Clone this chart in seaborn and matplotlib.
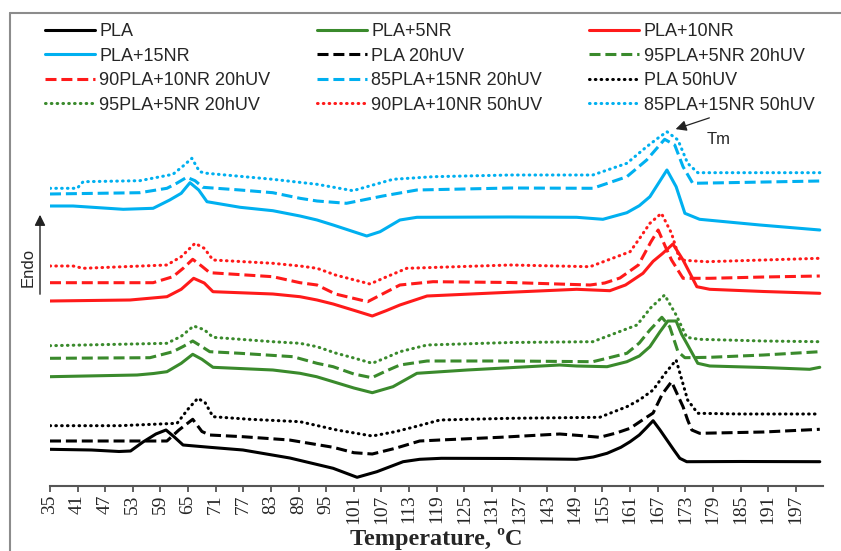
import matplotlib
matplotlib.use("Agg")
import matplotlib.pyplot as plt
import seaborn as sns
from matplotlib.lines import Line2D

# ---------------- data ----------------
T_PLA = [35, 44, 50, 52.5, 55.2, 58, 60.2, 62, 63.9, 69.7, 76.9, 87.1, 96.5, 101.7, 106, 111.7, 115.3, 120, 135,
         149.4, 153, 156, 159, 161, 163, 164.5, 166, 167.5, 169, 170.5, 171.8, 173.3, 185, 202.2]
H_PLA = [36.7, 36, 34.5, 35, 44, 52, 56, 49, 41, 38.7, 36, 28, 17.7, 8.7, 14.3, 24.3, 26.7, 27.7, 27.5,
         26.7, 29, 32.7, 38.7, 44.3, 51, 58, 65.3, 56, 46, 36, 27.7, 24.3, 24.5, 24.3]

T_PLA20 = [35, 50, 60.4, 63, 66, 68, 69.7, 76.9, 87, 96.5, 101, 105, 110, 115.3, 119.7, 132.7, 145.7, 150,
           154.4, 158, 161, 164, 166, 168, 170, 171.3, 172.5, 173.5, 174.4, 176.1, 190, 202.2]
H_PLA20 = [45, 45, 45, 56, 66.7, 54.5, 51, 49.3, 46, 38.7, 33.3, 32, 37.7, 45, 46, 48.7, 52, 50.5,
           48.7, 53, 57.7, 67, 73, 92, 104.3, 91.3, 79.3, 66, 56, 52.7, 54, 56.7]

T_PLA50 = [35, 50, 62.6, 65, 67.1, 68.7, 70.4, 78.4, 89.3, 97.3, 105, 110, 114.3, 119.7, 135, 154.4, 160.3,
           163, 166, 168.5, 171, 173.5, 175.7, 185, 202.2]
H_PLA50 = [60.3, 60.3, 62.7, 77, 87.7, 83.3, 69.3, 66.7, 64.3, 56, 50, 54.3, 59.3, 66, 67.7, 68.7, 79.3,
           86, 96, 112, 126, 86, 72.7, 72, 72]

T_5NR = [35, 53.9, 57.5, 60.4, 63.5, 66, 68, 70.4, 83.4, 89.3, 92.9, 96.5, 101, 105, 109.5, 114.7, 125.6,
         145.7, 149.4, 156, 160.3, 163, 165.3, 167.5, 169.2, 171, 172.2, 173.3, 175.7, 178.3, 190, 200, 202.2]
H_5NR = [109.3, 111, 112.5, 114.3, 122.7, 131.7, 126.7, 118.7, 116, 112.7, 109.3, 104.3, 98, 93.3, 99.3,
         112.7, 116, 121, 120, 119.3, 124.3, 130, 139.3, 154.3, 165, 165, 151.7, 142.7, 122.7, 120, 118.5,
         116.7, 118.7]

T_5NR20 = [35, 56.7, 61.7, 64, 66, 68, 69.7, 76.3, 87.8, 93, 96.5, 101, 104.9, 108, 111, 116.9, 135, 152.9,
           156.5, 160.3, 163, 165.3, 167.9, 169.6, 171.4, 172.9, 178.3, 190, 202.2]
H_5NR20 = [127.7, 128.3, 134.3, 139.7, 145, 139.3, 134.3, 132.7, 129.3, 122.7, 119.3, 112, 108.3, 115,
           121, 125, 125, 124.3, 128.3, 132.7, 143, 156, 168.7, 159.3, 134.3, 128.3, 128.7, 131, 134.3]

T_5NR50 = [35, 60.4, 63.5, 66.2, 68.5, 70.4, 83.4, 89.3, 93, 97, 101, 105, 108, 111, 116.9, 135, 152.9,
           157.5, 162.5, 165.5, 168.5, 171, 173.3, 176, 190, 202.2]
H_5NR50 = [140.3, 142.7, 149.7, 160, 156.3, 148.7, 144.3, 142.7, 139.3, 133, 128, 122.7, 128.3, 134.3,
           141, 143.5, 144.3, 152.3, 161, 178.3, 191, 171, 148.7, 146.7, 145, 144.3]

T_10NR = [35, 52.4, 60.4, 63.5, 66.2, 68.5, 70.4, 83.4, 89.3, 93, 96.5, 101, 105, 108, 111, 116.9, 132.7,
          149.4, 156.6, 160, 163.8, 166, 168.1, 170.3, 172.5, 174, 175.5, 178.3, 190, 202.2]
H_10NR = [185, 186, 189.3, 196.7, 207.7, 203, 194.3, 192, 189.3, 186, 182, 175.7, 170, 175.3, 181, 190,
          193.3, 196.7, 195.3, 201, 212.7, 224.7, 232.7, 242, 226, 212.7, 199.3, 196.7, 194.5, 192.7]

T_10NR20 = [35, 57.4, 61.7, 64, 66, 68, 69.7, 83.4, 89.3, 93, 97, 104, 107.5, 111, 118.2, 135, 152.3,
            155.5, 158.8, 162.8, 165.5, 167.1, 168.6, 170, 171.3, 172.5, 178.3, 190, 202.2]
H_10NR20 = [203.3, 203.3, 209.3, 218, 226.7, 219.7, 213.3, 209.3, 203.3, 201, 192, 184.3, 192.7, 201,
            204.3, 203.5, 201, 203, 208, 221, 244, 256, 240, 226, 216.5, 207.7, 207.7, 209, 210]

T_10NR50 = [35, 40, 42.2, 60.4, 63.5, 66.5, 68.5, 70.4, 83.4, 89.3, 93, 97, 104.5, 108, 112.5, 135, 152.3,
            157, 161, 163.2, 165.3, 167.8, 170, 171.8, 177.6, 190, 202.2]
H_10NR50 = [220, 220, 217.7, 221, 229.3, 242.7, 237.7, 226, 222.7, 220, 217.7, 211, 202, 209, 217.7, 221,
            219.3, 227.4, 234.3, 248.5, 262.7, 272.7, 252.7, 226, 224.3, 226, 227.7]

T_15NR = [35, 40, 50.9, 57.4, 61, 63.5, 65.4, 67.3, 69.1, 76.3, 83.4, 89.3, 93, 96.5, 103.8, 106.7, 111,
          114.7, 135, 149.4, 155.1, 160.3, 163, 165.3, 167.3, 169, 171, 172.9, 176.1, 189.2, 202.2]
H_15NR = [280, 280, 276.7, 277.7, 286, 292.7, 303.3, 296, 284.3, 278.7, 275.3, 270, 266, 261, 250, 254.3,
          266, 268.7, 269, 268.7, 266.7, 273.3, 280.3, 289.3, 303.7, 316, 299.3, 272.7, 266.7, 261, 256]

T_15NR20 = [35, 54.5, 60.4, 62.5, 64.7, 66.5, 68.2, 76.3, 83.4, 89.3, 93, 99.4, 107.3, 114.7, 135, 152.9,
            160.3, 164.6, 166.8, 168.5, 170.7, 172.5, 174.6, 182, 202.2]
H_15NR20 = [292, 293.3, 297.7, 302.7, 308.7, 305.3, 298.7, 296, 293.3, 287.7, 285, 282.7, 290, 296, 298,
            297.7, 309.3, 326, 337.7, 346.7, 341, 319.3, 302.7, 303.3, 305]

T_15NR50 = [35, 40.9, 42.2, 54.5, 61.7, 64, 65.8, 67.5, 69.1, 83.4, 93, 100.8, 109.5, 118.2, 135, 152.9,
            160.3, 164.6, 167, 169, 171.4, 173.5, 175.7, 190, 202.2]
H_15NR50 = [297.7, 297.7, 304.3, 305.3, 311.7, 320.3, 327.7, 314.3, 312.7, 306.7, 301.7, 295.3, 306.7,
            309.3, 311, 311, 322.7, 339.3, 347.7, 354.3, 346, 322.7, 313.3, 313.3, 313.3]

LABELS = ["PLA", "PLA+5NR", "PLA+10NR",
          "PLA+15NR", "PLA 20hUV", "95PLA+5NR 20hUV",
          "90PLA+10NR 20hUV", "85PLA+15NR 20hUV", "PLA 50hUV",
          "95PLA+5NR 20hUV", "90PLA+10NR 50hUV", "85PLA+15NR 50hUV"]
XTICKS = list(range(35, 198, 6))

# ---------------- styles ----------------
BLACK, GREEN, RED, CYAN = "#000000", "#3A8A2C", "#FF1A1A", "#00B0F0"
SOLID = "-"
DASH = (0, (3.6, 1.6))
DOT = (0, (0.2, 1.7))
LW = 2.2

series = [
    (T_PLA, H_PLA, BLACK, SOLID),
    (T_5NR, H_5NR, GREEN, SOLID),
    (T_10NR, H_10NR, RED, SOLID),
    (T_15NR, H_15NR, CYAN, SOLID),
    (T_PLA20, H_PLA20, BLACK, DASH),
    (T_5NR20, H_5NR20, GREEN, DASH),
    (T_10NR20, H_10NR20, RED, DASH),
    (T_15NR20, H_15NR20, CYAN, DASH),
    (T_PLA50, H_PLA50, BLACK, DOT),
    (T_5NR50, H_5NR50, GREEN, DOT),
    (T_10NR50, H_10NR50, RED, DOT),
    (T_15NR50, H_15NR50, CYAN, DOT),
]

sns.set_theme(style="white")
plt.rcParams["font.family"] = ["Liberation Sans", "DejaVu Sans"]

W, H = 841, 551
fig = plt.figure(figsize=(W / 100, H / 100), dpi=100)
ax = fig.add_axes([50 / W, 65 / H, 773 / W, (486 - 115) / H])

handles = []
for (t, h, c, ls), lab in zip(series, LABELS):
    cap = "round" if ls == DOT else "butt"
    sns.lineplot(x=t, y=h, ax=ax, color=c, linestyle=ls, linewidth=LW, legend=False)
    line = ax.get_lines()[-1]
    line.set_dash_capstyle(cap)
    line.set_solid_joinstyle("round")
    handles.append(Line2D([], [], color=c, linestyle=ls, linewidth=LW, dash_capstyle=cap))

ax.set_xlim(35, 202.9)
ax.set_ylim(0, 486 - 115)
ax.set_xticks(XTICKS)
ax.set_xticklabels([str(v) for v in XTICKS], rotation=90,
                   fontfamily="Liberation Serif", fontsize=14)
ax.set_yticks([])
for s in ["left", "right", "top"]:
    ax.spines[s].set_visible(False)
ax.spines["bottom"].set_color("#555555")
ax.spines["bottom"].set_linewidth(1.5)
ax.tick_params(axis="x", direction="out", length=4, width=1.3, color="#555555", pad=2, bottom=True)
ax.set_xlabel("Temperature, ºC", fontfamily="Liberation Serif", fontweight="bold",
              fontsize=17.5, labelpad=3)
ax.set_ylabel("")

# legend laid out row-wise in 3 columns
order = [0, 3, 6, 9, 1, 4, 7, 10, 2, 5, 8, 11]
fig.legend([handles[i] for i in order], [LABELS[i] for i in order],
           ncol=3, loc="upper left", bbox_to_anchor=(45 / W, 1 - 23 / H),
           bbox_transform=fig.transFigure, frameon=False, fontsize=13,
           handlelength=2.75, handletextpad=0.25, columnspacing=2.6,
           labelspacing=0.42, borderpad=0, borderaxespad=0)

# frame around the figure (left and top edges visible)
fig.add_artist(Line2D([10 / W, 10 / W], [0, 1 - 13 / H], transform=fig.transFigure,
                      color="#8c8c8c", lw=1.5))
fig.add_artist(Line2D([10 / W, 1.0], [1 - 13 / H, 1 - 13 / H], transform=fig.transFigure,
                      color="#8c8c8c", lw=1.5))

# Endo arrow
ax.annotate("", xy=(40, H - 212), xytext=(40, H - 297), xycoords="figure pixels",
            textcoords="figure pixels",
            arrowprops=dict(arrowstyle="-|>", color="#222222", lw=1.0, mutation_scale=16))
fig.text(28 / W, 1 - 267 / H, "Endo", rotation=90, ha="center", va="center", fontsize=12)

# Tm annotation
ax.annotate("", xy=(673, H - 130), xytext=(712, H - 117), xycoords="figure pixels",
            textcoords="figure pixels",
            arrowprops=dict(arrowstyle="-|>", color="#222222", lw=0.9, mutation_scale=16))
fig.text(707 / W, 1 - 139 / H, "Tm", ha="left", va="center", fontsize=12)

fig.savefig("out.png", dpi=100)
